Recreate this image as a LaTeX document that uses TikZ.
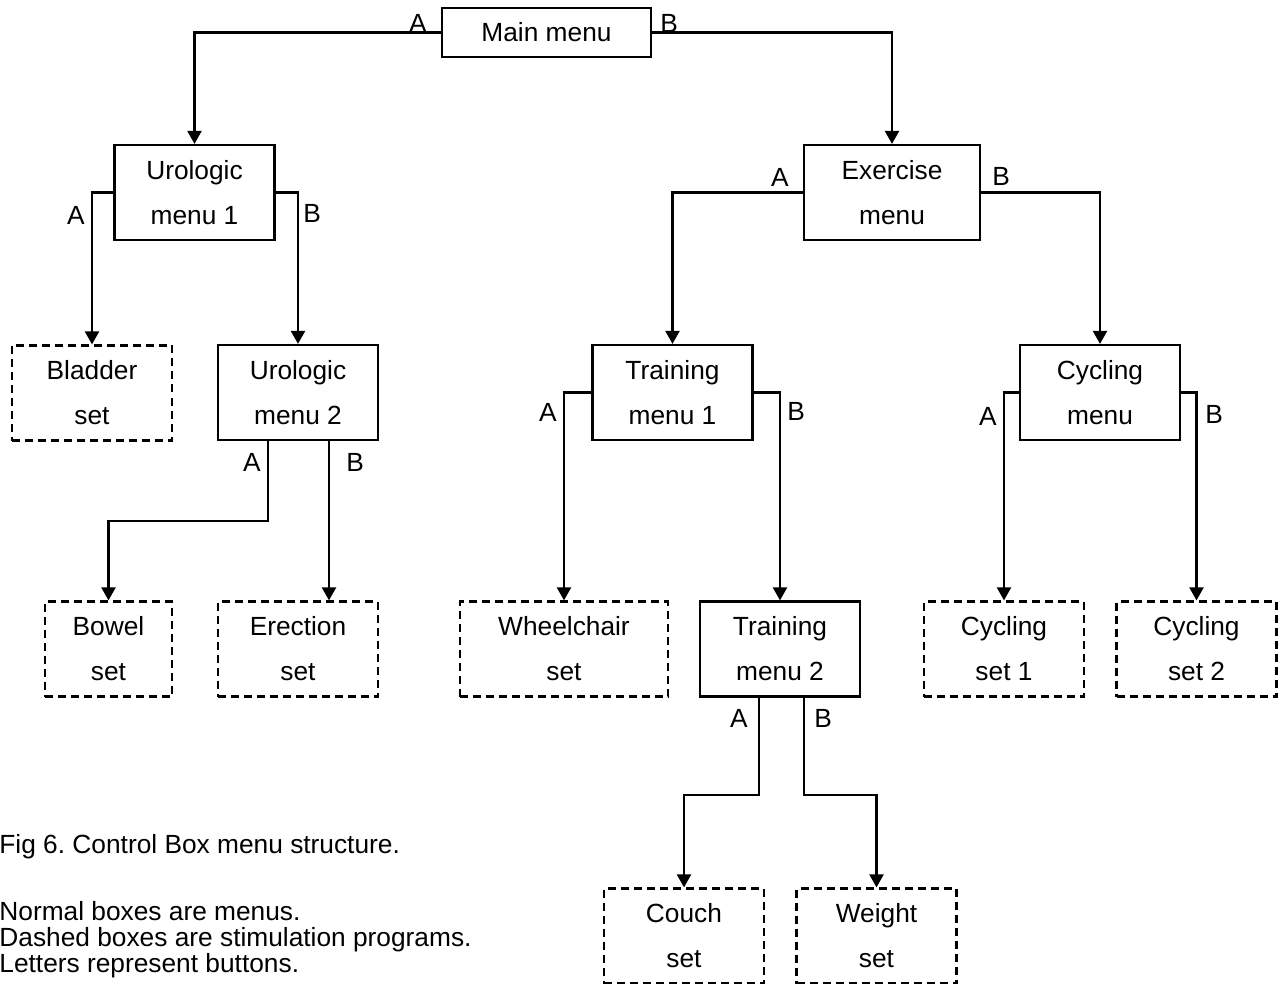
\documentclass[tikz,border=0pt]{standalone}
\usepackage{fontspec}
\setmainfont{Liberation Sans}
\usetikzlibrary{arrows.meta}

\tikzset{
  menubox/.style={draw, line width=1.1pt, inner sep=0pt, align=center,
    minimum width=80pt, minimum height=47.5pt,
    font=\fontsize{13.15}{22.5}\selectfont},
  progbox/.style={menubox, dash pattern=on 4pt off 2.5pt},
  link/.style={line width=1.1pt, -{Triangle[length=6.5pt,width=7pt]}},
  btn/.style={inner sep=0pt, font=\fontsize{13.15}{15}\selectfont},
}

\begin{document}
\begin{tikzpicture}[x=0.5pt,y=-0.5pt]
            \useasboundingbox (0,0) rectangle (1286,984);

            \node[menubox, minimum width=104.5pt, minimum height=24.5pt] (main) at (546.5,32.5) {Main menu};
            \node[menubox] (uro1) at (194.5,192.5) {Urologic\\menu 1};
            \node[menubox, minimum width=88pt] (exer) at (892,192.5) {Exercise\\menu};
            \node[progbox] (bladder) at (92,393) {Bladder\\set};
            \node[menubox] (uro2) at (298,392.5) {Urologic\\menu 2};
            \node[menubox] (train1) at (672.5,392.5) {Training\\menu 1};
            \node[menubox] (cycm) at (1100,392.5) {Cycling\\menu};
            \node[progbox, minimum width=63.5pt] (bowel) at (108.5,649) {Bowel\\set};
            \node[progbox] (erect) at (298,649) {Erection\\set};
            \node[progbox, minimum width=104pt] (wheel) at (564,649) {Wheelchair\\set};
            \node[menubox] (train2) at (780,649) {Training\\menu 2};
            \node[progbox] (cyc1) at (1004,649) {Cycling\\set 1};
            \node[progbox] (cyc2) at (1196.5,649) {Cycling\\set 2};
            \node[progbox] (couch) at (684,936) {Couch\\set};
            \node[progbox] (weight) at (876.5,936) {Weight\\set};

            \draw[link] (main.west) -| (uro1.north);
            \draw[link] (main.east) -| (exer.north);
            \draw[link] (uro1.west) -| (bladder.north);
            \draw[link] (uro1.east) -| (uro2.north);
            \draw[link] ([xshift=-15pt]uro2.south) -- ++(0,80) -| (bowel.north);
            \draw[link] ([xshift=15.5pt]uro2.south) -- ([xshift=15.5pt]erect.north);
            \draw[link] (exer.west) -| (train1.north);
            \draw[link] (exer.east) -| (cycm.north);
            \draw[link] (train1.west) -| (wheel.north);
            \draw[link] (train1.east) -| (train2.north);
            \draw[link] (cycm.west) -| (cyc1.north);
            \draw[link] (cycm.east) -| (cyc2.north);
            \draw[link] ([xshift=-10.5pt]train2.south) -- ++(0,97) -| (couch.north);
            \draw[link] ([xshift=12pt]train2.south) -- ++(0,97) -| (weight.north);

            \node[btn, anchor=base east] (mainA) at (427,33) {A};
            \node[btn, anchor=base west] (mainB) at (660,33) {B};
            \node[btn, anchor=base east] (uro1A) at (85,225) {A};
            \node[btn, anchor=base west] (uro1B) at (303,223) {B};
            \node[btn, anchor=base east] (uro2A) at (261,472) {A};
            \node[btn, anchor=base west] (uro2B) at (346,472) {B};
            \node[btn, anchor=base east] (exerA) at (789,187) {A};
            \node[btn, anchor=base west] (exerB) at (992,186) {B};
            \node[btn, anchor=base east] (train1A) at (557,422) {A};
            \node[btn, anchor=base west] (train1B) at (787,421) {B};
            \node[btn, anchor=base east] (cycmA) at (997,425) {A};
            \node[btn, anchor=base west] (cycmB) at (1205,423) {B};
            \node[btn, anchor=base east] (train2A) at (748,727) {A};
            \node[btn, anchor=base west] (train2B) at (814,727) {B};

            \node[btn, anchor=base west] (caption) at (-1,853) {Fig 6.\ Control Box menu structure.};
            \node[btn, anchor=base west] (legend1) at (-1,920) {Normal boxes are menus.};
            \node[btn, anchor=base west] (legend2) at (-1,946) {Dashed boxes are stimulation programs.};
            \node[btn, anchor=base west] (legend3) at (-1,972) {Letters represent buttons.};
        \end{tikzpicture}
\end{document}
